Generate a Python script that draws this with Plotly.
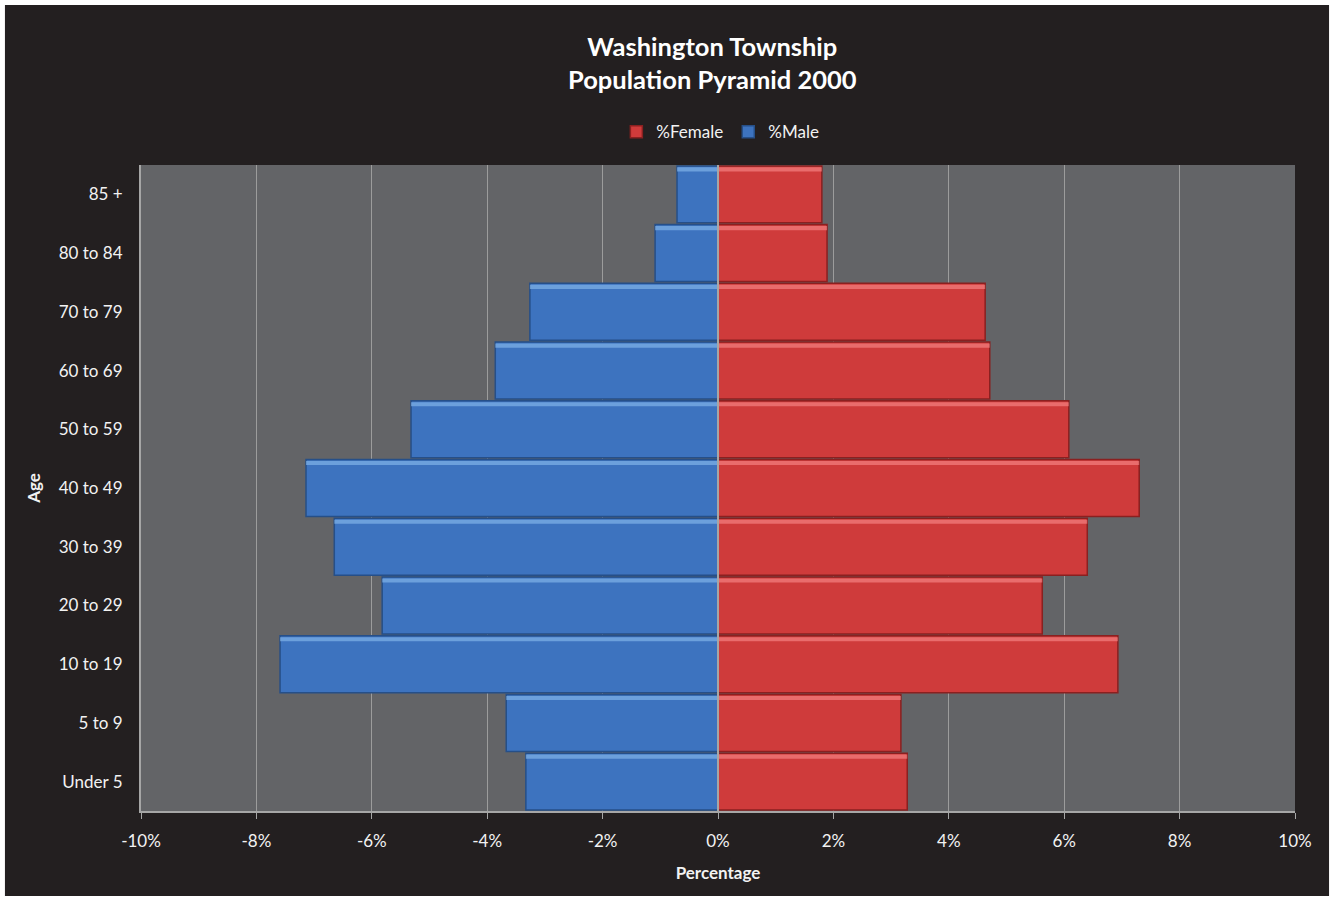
import plotly.graph_objects as go

# Age groups, bottom to top
age_groups = ["Under 5", "5 to 9", "10 to 19", "20 to 29", "30 to 39", "40 to 49",
              "50 to 59", "60 to 69", "70 to 79", "80 to 84", "85 +"]
# Share of total population (%)
pct_female = [3.28, 3.17, 6.93, 5.62, 6.40, 7.30, 6.08, 4.71, 4.63, 1.89, 1.80]
pct_male = [3.33, 3.67, 7.59, 5.82, 6.65, 7.14, 5.32, 3.86, 3.26, 1.09, 0.71]

x_ticks = [-10, -8, -6, -4, -2, 0, 2, 4, 6, 8, 10]
x_tick_text = [f"{v}%" for v in x_ticks]

FONT = "Lato, 'Open Sans', sans-serif"
TEXT = "#f2f2f2"
AXIS_GREY = "#a6a6a6"

male_neg = [-v for v in pct_male]

fig = go.Figure()
fig.add_trace(go.Bar(
    y=age_groups, x=pct_female, name="%Female", orientation="h",
    marker=dict(color="#cf3b3b", line=dict(color="#8a2020", width=1.5)),
    hovertemplate="%{y}: %{x:.2f}%<extra>%Female</extra>",
))
fig.add_trace(go.Bar(
    y=age_groups, x=male_neg, name="%Male", orientation="h",
    customdata=pct_male,
    marker=dict(color="#3d73bf", line=dict(color="#264f88", width=1.5)),
    hovertemplate="%{y}: %{customdata:.2f}%<extra>%Male</extra>",
))

# light bevel strip along the top edge of every bar
for vals, col in ((pct_female, "rgba(255,150,150,0.55)"), (male_neg, "rgba(140,190,240,0.6)")):
    fig.add_trace(go.Bar(
        y=age_groups, x=vals, orientation="h", width=0.07, offset=0.39,
        marker=dict(color=col, line=dict(width=0)),
        showlegend=False, hoverinfo="skip",
    ))

# dark card behind the whole chart, leaving a thin white border
fig.add_shape(type="rect", xref="paper", yref="paper",
              x0=-0.1179, x1=1.0295, y0=-0.1316, y1=1.2477,
              fillcolor="#231f20", line=dict(width=0), layer="below")
# grey plotting area
fig.add_shape(type="rect", xref="paper", yref="paper",
              x0=0, x1=1, y0=0, y1=1,
              fillcolor="#636467", line=dict(width=0), layer="below")
# zero reference line drawn over the bars
fig.add_shape(type="line", xref="x", yref="paper", x0=0, x1=0, y0=0, y1=1,
              line=dict(color=AXIS_GREY, width=2), layer="above")

fig.update_layout(
    width=1334, height=900,
    margin=dict(l=141, r=39, t=165, b=89),
    paper_bgcolor="white",
    plot_bgcolor="rgba(0,0,0,0)",
    barmode="overlay",
    bargap=0.03,
    font=dict(family=FONT, color=TEXT, size=17),
    title=dict(
        text="<b>Washington Township<br>Population Pyramid 2000</b>",
        x=0.534, xref="container", y=0.938, yref="container", yanchor="top",
        xanchor="center",
        font=dict(size=25.5, color="white", family=FONT),
    ),
    legend=dict(
        orientation="h", x=0.54, xanchor="center", xref="container",
        y=0.853, yref="container", yanchor="middle",
        font=dict(size=17, color=TEXT), bgcolor="rgba(0,0,0,0)",
        traceorder="normal",
    ),
    xaxis=dict(
        range=[-10, 10], tickvals=x_ticks, ticktext=x_tick_text,
        showgrid=True, gridcolor="#9c9c9c", gridwidth=1,
        zeroline=False,
        showline=True, linecolor=AXIS_GREY, linewidth=2,
        ticks="outside", ticklen=6, tickcolor=AXIS_GREY,
        ticklabelstandoff=8,
        tickfont=dict(size=17, color=TEXT),
        title=dict(text="<b>Percentage</b>", font=dict(size=17, color=TEXT), standoff=17),
        fixedrange=True,
    ),
    yaxis=dict(
        categoryorder="array", categoryarray=age_groups,
        showline=True, linecolor=AXIS_GREY, linewidth=2,
        ticks="", ticklabelstandoff=13,
        tickfont=dict(size=17, color=TEXT),
        title=dict(text="<b>Age</b>", font=dict(size=17, color=TEXT), standoff=14),
        fixedrange=True,
    ),
    showlegend=True,
)

fig.write_html("out.html")
